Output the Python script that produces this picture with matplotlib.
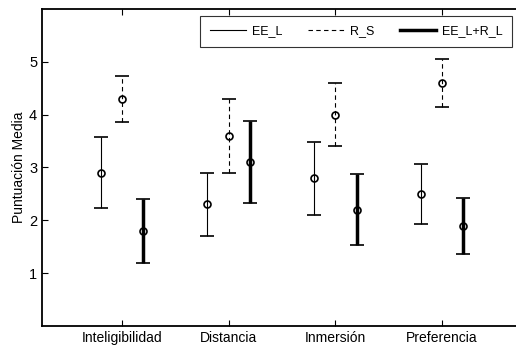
import numpy as np
import matplotlib
matplotlib.use("Agg")
import matplotlib.pyplot as plt
from matplotlib.lines import Line2D

plt.rcParams['font.family'] = ['Liberation Sans', 'DejaVu Sans']

categories = ['Inteligibilidad', 'Distancia', 'Inmersión', 'Preferencia']

# medias y semiamplitud de las barras de error
ee_l_mean = [2.9, 2.3, 2.8, 2.5]
ee_l_err = [0.67, 0.59, 0.69, 0.57]
rs_mean = [4.3, 3.6, 4.0, 4.6]
rs_err = [0.44, 0.70, 0.60, 0.45]
eerl_mean = [1.8, 3.1, 2.2, 1.9]
eerl_err = [0.60, 0.78, 0.67, 0.53]

W, H = 516, 351
fig = plt.figure(figsize=(W / 100, H / 100), dpi=100)
ax = fig.add_axes([42 / W, (H - 326) / H, 480 / W, 317 / H])

x = np.arange(1, len(categories) + 1)

common = dict(fmt='o', color='black', markerfacecolor='none', markersize=5,
              markeredgewidth=1.2, capsize=5)

h1 = ax.errorbar(x - 0.2, ee_l_mean, yerr=ee_l_err, elinewidth=0.8,
                 capthick=1.2, label='EE_L', **common)
h2 = ax.errorbar(x, rs_mean, yerr=rs_err, elinewidth=0.8, capthick=1.2,
                 label='R_S', **common)
h2[-1][0].set_linestyle((0, (4, 3)))
h3 = ax.errorbar(x + 0.2, eerl_mean, yerr=eerl_err, elinewidth=2.5,
                 capthick=2.2, label='EE_L+R_L', **common)

ax.set_xlim(0.25, 4.75)
ax.set_ylim(0, 6)
ax.set_xticks(x)
ax.set_xticklabels(categories, fontsize=10)
ax.set_yticks([1, 2, 3, 4, 5])
ax.tick_params(axis='y', labelsize=10.5, direction='in', length=4, width=0.8)
ax.tick_params(axis='x', direction='in', length=4, width=0.8, top=True)
ax.set_ylabel('Puntuación Media', fontsize=10, labelpad=2)

for s in ['left', 'bottom', 'top']:
    ax.spines[s].set_linewidth(1.3)
ax.spines['right'].set_visible(False)

handles = [Line2D([], [], color='black', lw=0.8),
           Line2D([], [], color='black', lw=0.8, ls=(0, (4, 3))),
           Line2D([], [], color='black', lw=2.5)]
leg = fig.legend(handles, ['EE_L', 'R_S', 'EE_L+R_L'], ncol=3, fontsize=9,
                 loc='upper right', bbox_to_anchor=(512 / W, 1 - 16 / H),
                 frameon=True, fancybox=False, handlelength=2.9,
                 columnspacing=2.0, borderpad=0.75, handletextpad=0.5,
                 borderaxespad=0)
leg.get_frame().set_edgecolor('black')
leg.get_frame().set_linewidth(0.8)

fig.savefig('out.png', dpi=100)
